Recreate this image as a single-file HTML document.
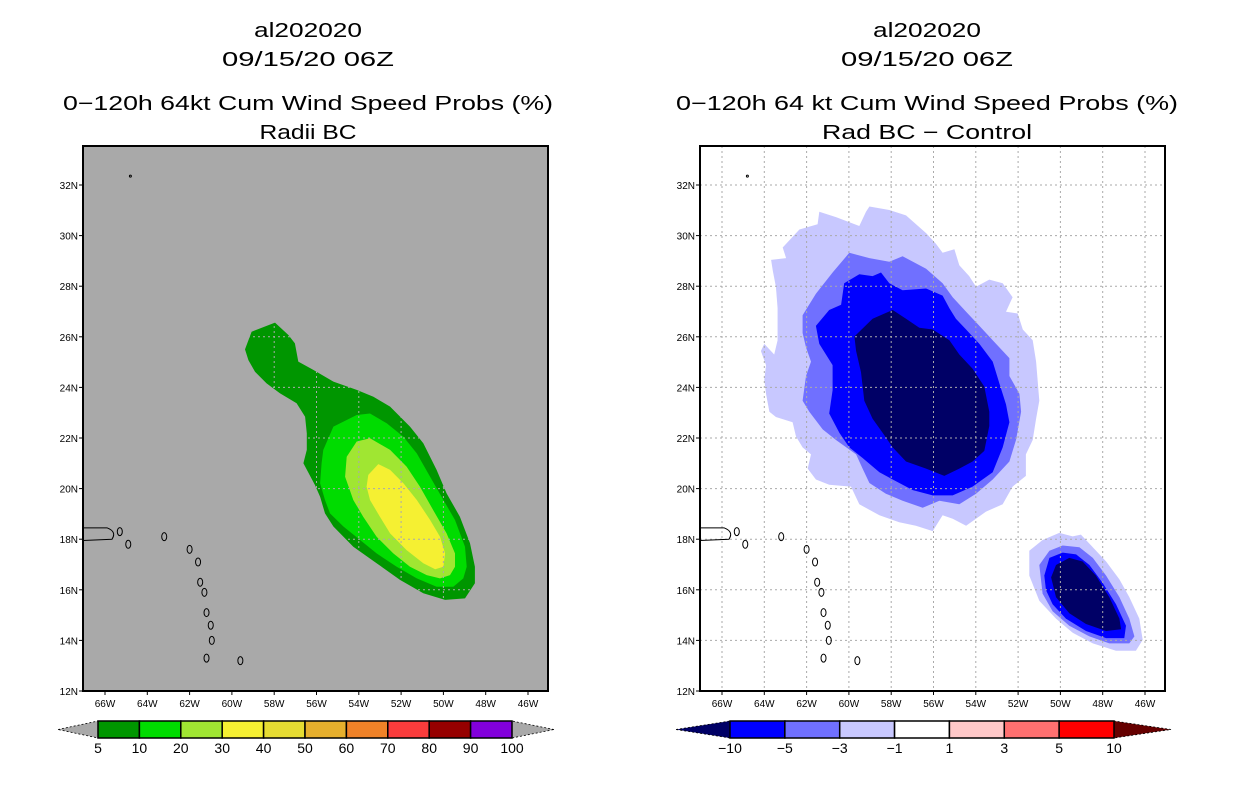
<!DOCTYPE html>
<html><head><meta charset="utf-8"><style>
html,body{margin:0;padding:0;background:#fff;}
svg{display:block;font-family:"Liberation Sans",sans-serif;}
</style></head><body>
<svg id="chart" width="1236" height="800" viewBox="0 0 1236 800" xmlns="http://www.w3.org/2000/svg">
<defs>
<clipPath id="clipL"><rect x="83" y="146" width="465" height="545"/></clipPath>
<clipPath id="clipR"><rect x="700" y="146" width="466" height="545"/></clipPath>
<clipPath id="clipGridL"><polygon id="clipGridPoly" points=""/></clipPath>
</defs>
<g font-size="20" text-anchor="middle" fill="#000">
<text x="308" y="37" textLength="108" lengthAdjust="spacingAndGlyphs">al202020</text>
<text x="308" y="66" textLength="172" lengthAdjust="spacingAndGlyphs">09/15/20 06Z</text>
<text x="308" y="110" textLength="490" lengthAdjust="spacingAndGlyphs">0−120h 64kt Cum Wind Speed Probs (%)</text>
<text x="308" y="139" textLength="97" lengthAdjust="spacingAndGlyphs">Radii BC</text>
</g>
<g font-size="20" text-anchor="middle" fill="#000">
<text x="927" y="37" textLength="108" lengthAdjust="spacingAndGlyphs">al202020</text>
<text x="927" y="66" textLength="172" lengthAdjust="spacingAndGlyphs">09/15/20 06Z</text>
<text x="927" y="110" textLength="502" lengthAdjust="spacingAndGlyphs">0−120h 64 kt Cum Wind Speed Probs (%)</text>
<text x="927" y="139" textLength="210" lengthAdjust="spacingAndGlyphs">Rad BC − Control</text>
</g>
<g id="left"></g>
<g id="right"></g>
<g id="cbL"></g>
<g id="cbR"></g>
</svg>
<script>
// axis ticks
const lonTicks = [66,64,62,60,58,56,54,52,50,48,46];
const latTicks = [12,14,16,18,20,22,24,26,28,30,32];
// left panel contours (lon W, lat N)
const p5Lon = [59.38,59.07,57.96,57.33,57.02,56.86,56.15,55.2,54.1,53.31,52.52,51.58,50.95,50.32,49.85,49.22,48.74,48.51,48.51,48.98,49.92,50.95,52.05,53.16,54.26,55.2,55.6,55.83,56.07,56.62,56.46,56.46,56.54,56.94,57.73,58.36,58.91,59.22];
const p5Lat = [25.5,26.2,26.56,26.07,25.74,25.02,24.69,24.23,23.9,23.63,23.24,22.45,21.79,20.74,19.81,18.89,17.84,16.91,16.26,15.66,15.6,15.86,16.39,17.05,17.7,18.5,19.02,19.68,20.14,21.0,21.53,22.18,22.84,23.37,23.77,24.16,24.62,25.08];
const p10Lon = [55.68,55.2,54.1,53.47,52.68,51.89,51.26,50.63,50.0,49.45,48.98,48.9,49.06,49.53,50.32,51.26,52.21,53.16,53.94,54.73,55.36,55.6,55.83,55.76];
const p10Lat = [21.53,22.45,22.91,22.97,22.58,22.05,21.39,20.47,19.55,18.76,17.7,16.91,16.45,16.12,16.12,16.45,16.91,17.44,17.97,18.5,19.02,19.55,20.21,21.0];
const p20Lon = [54.57,54.1,53.47,52.52,51.74,51.11,50.48,49.85,49.45,49.45,49.69,50.16,50.79,51.58,52.37,53.16,53.79,54.26,54.65];
const p20Lat = [21.26,21.86,21.99,21.53,20.87,20.08,19.15,18.23,17.44,16.91,16.58,16.45,16.58,16.91,17.44,18.1,18.89,19.55,20.47];
const p30Lon = [53.55,53.08,52.52,51.89,51.26,50.63,50.16,49.92,50.0,50.39,50.95,51.74,52.52,53.0,53.47,53.63];
const p30Lat = [20.54,20.97,20.74,20.21,19.55,18.76,18.1,17.44,16.91,16.81,17.05,17.57,18.23,18.89,19.55,20.08];
// right panel contours (difference)
const d1Lon = [63.68,62.97,63.13,62.34,61.48,61.40,60.61,59.51,59.19,59.03,58.09,57.30,56.35,55.88,55.57,55.01,54.78,54.31,53.99,53.36,52.73,52.26,52.57,52.02,51.78,51.31,51.15,51.0,51.15,51.31,51.63,51.63,52.26,52.73,53.52,54.46,55.09,55.57,56.04,56.83,57.62,58.56,59.51,59.9,60.93,61.56,61.95,61.79,62.19,62.5,62.66,63.45,63.76,63.92,64.0,63.92,64.16,64.0,63.53,63.37,63.37,63.45,63.6];
const d1Lat = [29.04,29.11,29.53,30.24,30.45,30.94,30.73,30.38,30.94,31.15,31.01,30.8,30.1,29.67,29.32,29.46,28.83,28.4,27.98,28.26,28.12,27.56,26.99,26.92,26.29,25.86,25.02,23.47,22.76,21.92,21.35,20.5,20.08,19.38,19.09,18.53,18.81,18.95,18.32,18.53,18.67,18.95,19.38,20.08,20.15,20.36,20.79,21.35,21.63,22.06,22.62,22.83,23.04,23.75,24.31,24.88,25.44,25.72,25.3,25.86,27.13,27.98,28.61];
const d3Lon = [62.19,61.56,60.77,59.98,59.03,58.09,57.46,56.35,55.57,55.09,54.46,53.83,53.2,52.41,52.41,51.94,51.86,52.1,52.41,53.2,53.99,54.78,55.72,56.51,57.46,58.25,59.03,59.35,59.66,60.61,61.24,61.87,62.19,62.03,61.79,62.03,62.19];
const d3Lat = [26.85,27.7,28.54,29.32,29.11,28.97,29.18,28.69,28.12,27.56,26.99,26.43,25.86,25.16,24.45,23.75,23.04,21.92,21.07,20.36,19.8,19.38,19.52,19.24,19.52,19.8,20.22,20.79,21.35,21.92,22.34,23.04,23.47,24.45,25.02,25.58,26.15];
const d5Lon = [61.56,60.93,60.37,60.22,59.51,58.88,58.48,58.09,57.46,56.35,55.57,55.25,54.94,54.46,53.83,53.2,52.89,52.57,52.41,52.73,53.2,54.15,55.09,56.04,56.98,57.93,58.56,59.35,59.98,60.45,60.93,60.77,60.77,61.4];
const d5Lat = [26.43,27.06,27.27,28.12,28.47,28.4,28.54,28.12,27.84,27.91,27.63,27.13,26.71,26.29,25.72,25.02,24.17,23.33,22.62,21.63,20.65,20.08,19.73,19.73,19.94,20.36,20.65,21.21,21.63,22.2,22.97,23.89,24.88,25.72];
const d10Lon = [59.74,58.88,57.93,57.3,56.67,56.04,55.25,54.78,54.15,53.6,53.36,53.36,53.6,54.15,54.78,55.49,56.35,57.3,57.93,58.4,58.88,59.27,59.43,59.66];
const d10Lat = [26.01,26.71,27.06,26.71,26.36,26.29,25.86,25.3,24.74,24.03,23.04,22.48,21.49,21.07,20.79,20.5,20.79,21.07,21.63,22.2,22.76,23.47,24.6,25.44];
const e1Lon = [51.47,50.84,50.05,49.42,49.03,48.47,47.84,47.21,46.74,46.27,46.11,46.43,47.37,48.47,49.42,50.21,51.0,51.47];
const e1Lat = [17.54,17.97,18.25,18.11,18.18,17.68,17.12,16.41,15.71,14.86,14.02,13.59,13.59,13.88,14.3,14.86,15.57,16.56];
const e3Lon = [51.0,50.52,49.89,49.1,48.47,47.84,47.21,46.74,46.5,46.74,47.69,48.63,49.58,50.37,50.84];
const e3Lat = [16.98,17.54,17.75,17.68,17.26,16.56,15.71,14.86,14.16,13.88,13.88,14.16,14.58,15.15,15.85];
const e5Lon = [50.76,50.52,49.89,49.26,48.63,48.0,47.37,46.9,46.98,47.84,48.79,49.74,50.37,50.68];
const e5Lat = [16.56,17.26,17.47,17.4,16.98,16.27,15.43,14.58,14.09,14.09,14.37,14.86,15.43,15.99];
const e10Lon = [50.44,50.21,49.58,48.95,48.32,47.69,47.21,47.13,47.84,48.79,49.58,50.21];
const e10Lat = [16.49,16.98,17.26,17.12,16.56,15.71,14.86,14.44,14.37,14.65,15.07,15.71];
// islands (center lon W, lat N, rx deg, ry deg)
const islLon = [63.2,62.0,61.6,61.5,61.3,61.2,61.0,60.95,61.2,59.6,64.9,65.3];
const islLat = [18.1,17.6,17.1,16.3,15.9,15.1,14.6,14.0,13.3,13.2,17.8,18.3];
// colorbars
const cbLLabels = ["5","10","20","30","40","50","60","70","80","90","100"];
const cbLColors = ["#009600","#00dc00","#a0e632","#f5f032","#e6dc32","#e6af2d","#f08228","#fa3c3c","#960000","#8200dc"];
const cbRLabels = ["−10","−5","−3","−1","1","3","5","10"];
const cbRColors = ["#0000ff","#7070ff","#c8c8ff","#ffffff","#ffc8c8","#ff7070","#ff0000"];

const NS="http://www.w3.org/2000/svg";
function mk(tag,parent,attrs){const e=document.createElementNS(NS,tag);for(const k in attrs)e.setAttribute(k,attrs[k]);parent.appendChild(e);return e;}
function xs(off){return lon=>105+off+(66-lon)*21.15;}
function ys(lat){return 691-(lat-12)*25.3;}
function pts(lons,lats,X){return lons.map((l,i)=>X(l).toFixed(1)+","+ys(lats[i]).toFixed(1)).join(" ");}

function drawPanel(g,off,bg,clip,contours,gridClip){
  const X=xs(off);
  const fx=83+off;
  const bgR=mk('rect',g,{x:fx,y:146,width:465,height:545,fill:bg});
  
  
  const cg=mk('g',g,{'clip-path':'url(#'+clip+')'});
  contours.forEach(c=>{
    const p=mk('polygon',cg,{points:pts(c[0],c[1],X),fill:c[2]});
    
    
  });
  const gg=mk('g',cg,{stroke:'#aaa','stroke-width':1,'stroke-dasharray':'2,3'});
  if(gridClip) gg.setAttribute('clip-path','url(#'+gridClip+')');
  
  
  lonTicks.forEach(l=>mk('line',gg,{x1:X(l),x2:X(l),y1:146,y2:691}));
  latTicks.forEach(l=>mk('line',gg,{x1:fx,x2:fx+465,y1:ys(l),y2:ys(l)}));
  // islands
  const ig=mk('g',cg,{fill:'none',stroke:'#000','stroke-width':1});
  
  
  mk('path',ig,{d:`M${fx} ${ys(18.45)} L${fx+24} ${ys(18.45)} Q${fx+34} ${ys(18.3)} ${fx+29} ${ys(18.0)} L${fx} ${ys(17.95)}`});
  islLon.forEach((l,i)=>{mk('ellipse',ig,{cx:X(l),cy:ys(islLat[i]),rx:2.5,ry:4});});
  mk('circle',ig,{cx:X(64.8),cy:ys(32.35),r:1});
  const fr=mk('rect',g,{x:fx,y:146,width:465,height:545,fill:'none',stroke:'#000','stroke-width':2});
  
  
  const tg=mk('g',g,{'font-size':10,fill:'#000'});
  
  
  lonTicks.forEach(l=>{
    mk('line',tg,{x1:X(l),x2:X(l),y1:691,y2:695,stroke:'#000'});
    const t=mk('text',tg,{x:X(l),y:707,'text-anchor':'middle'});t.textContent=l+'W';
    
    
  });
  latTicks.forEach(l=>{
    mk('line',tg,{x1:fx-4,x2:fx,y1:ys(l),y2:ys(l),stroke:'#000'});
    const t=mk('text',tg,{x:fx-5,y:ys(l)+4,'text-anchor':'end'});t.textContent=l+'N';
    
    
  });
}
document.getElementById('clipGridPoly').setAttribute('points',pts(p5Lon,p5Lat,xs(0)));
drawPanel(document.getElementById('left'),0,'#a9a9a9','clipL',[
  [p5Lon,p5Lat,'#009600','contour-5pct'],[p10Lon,p10Lat,'#00dc00','contour-10pct'],
  [p20Lon,p20Lat,'#a0e632','contour-20pct'],[p30Lon,p30Lat,'#f5f032','contour-30pct']],'clipGridL');
drawPanel(document.getElementById('right'),617,'#ffffff','clipR',[
  [d1Lon,d1Lat,'#c8c8ff','diff-minus1'],[d3Lon,d3Lat,'#7070ff','diff-minus3'],
  [d5Lon,d5Lat,'#0000ff','diff-minus5'],[d10Lon,d10Lat,'#000066','diff-minus10'],
  [e1Lon,e1Lat,'#c8c8ff','diff2-minus1'],[e3Lon,e3Lat,'#7070ff','diff2-minus3'],
  [e5Lon,e5Lat,'#0000ff','diff2-minus5'],[e10Lon,e10Lat,'#000066','diff2-minus10']],null);

function colorbar(g,x0,x1,tipL,tipR,colors,labels,lc,rc){
  const y0=721,y1=738,n=colors.length,w=(x1-x0)/n,ym=(y0+y1)/2;
  const a1=mk('polygon',g,{points:`${tipL},${ym} ${x0},${y0} ${x0},${y1}`,fill:lc,stroke:'#000','stroke-dasharray':'2,2','stroke-width':0.8});
  
  
  const a2=mk('polygon',g,{points:`${tipR},${ym} ${x1},${y0} ${x1},${y1}`,fill:rc,stroke:'#000','stroke-dasharray':'2,2','stroke-width':0.8});
  
  
  colors.forEach((c,i)=>{
    const r=mk('rect',g,{x:x0+i*w,y:y0,width:w,height:y1-y0,fill:c,stroke:'#000','stroke-width':1.5});
    
    
  });
  labels.forEach((l,i)=>{
    const t=mk('text',g,{x:x0+i*w,y:753,'text-anchor':'middle','font-size':14});t.textContent=l;
    
    
  });
}
colorbar(document.getElementById('cbL'),98,512,58,554,cbLColors,cbLLabels,'#a9a9a9','#a9a9a9');
colorbar(document.getElementById('cbR'),730,1114,676,1171,cbRColors,cbRLabels,'#000066','#660000');
</script>
</body></html>
